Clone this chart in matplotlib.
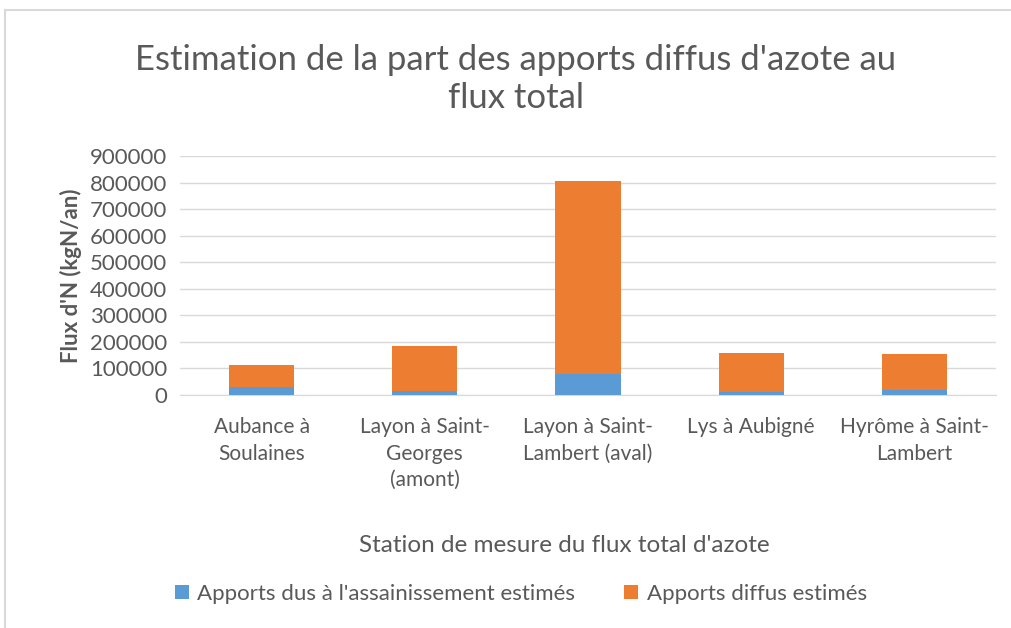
import matplotlib.pyplot as plt
import numpy as np

stations = ["Aubance à\nSoulaines", "Layon à Saint-\nGeorges\n(amont)", "Layon à Saint-\nLambert (aval)",
            "Lys à Aubigné", "Hyrôme à Saint-\nLambert"]
assainissement = [29000, 14000, 78000, 11000, 20000]
diffus = [83000, 170000, 727000, 148000, 134000]

blue = "#5B9BD5"
orange = "#ED7D31"
grey = "#595959"

plt.rcParams['font.family'] = ['Lato', 'DejaVu Sans']

fig = plt.figure(figsize=(10.11, 6.28), dpi=100)
ax = fig.add_axes([180 / 1011, 1 - 395 / 628, 816 / 1011, 239 / 628])

x = np.arange(len(stations))
ax.bar(x, assainissement, width=0.4, color=blue, label="Apports dus à l'assainissement estimés", zorder=3)
ax.bar(x, diffus, width=0.4, bottom=assainissement, color=orange, label="Apports diffus estimés", zorder=3)

ax.set_xlim(-0.5, 4.5)
ax.set_ylim(0, 900000)
ax.set_yticks(np.arange(0, 900001, 100000))
ax.set_yticklabels([str(v) for v in range(0, 900001, 100000)], fontsize=16, color=grey)
ax.set_xticks(x)
ax.set_xticklabels(stations, fontsize=15, color=grey, linespacing=1.4, va="top")
ax.tick_params(axis="y", length=0, pad=9)
ax.tick_params(axis="x", length=0, pad=16)
ax.grid(axis="y", color="#D9D9D9", linewidth=1, zorder=0)
for s in ["top", "right", "left"]:
    ax.spines[s].set_visible(False)
ax.spines["bottom"].set_color("#D9D9D9")

ax.set_ylabel("Flux d'N (kgN/an)", fontsize=16, fontweight="bold", color=grey, labelpad=6)

fig.text(516 / 1011, 1 - 79 / 628, "Estimation de la part des apports diffus d'azote au\nflux total",
         ha="center", va="center", fontsize=25, color=grey, linespacing=1.22)
fig.text(564 / 1011, 1 - 545 / 628, "Station de mesure du flux total d'azote",
         ha="center", va="center", fontsize=17.5, color=grey)

fig.legend(loc="center", bbox_to_anchor=(521 / 1011, 1 - 594 / 628), ncol=2, frameon=False,
           fontsize=16, labelcolor=grey, handlelength=0.6, handleheight=0.6, columnspacing=2.2, handletextpad=0.4)

# chart border (crop of the original frame)
fig.add_artist(plt.Line2D([5 / 1011, 1], [1 - 10 / 628, 1 - 10 / 628], color="#D9D9D9", lw=1.5))
fig.add_artist(plt.Line2D([5 / 1011, 5 / 1011], [0, 1 - 10 / 628], color="#D9D9D9", lw=1.5))

fig.savefig("out.png", dpi=100)
